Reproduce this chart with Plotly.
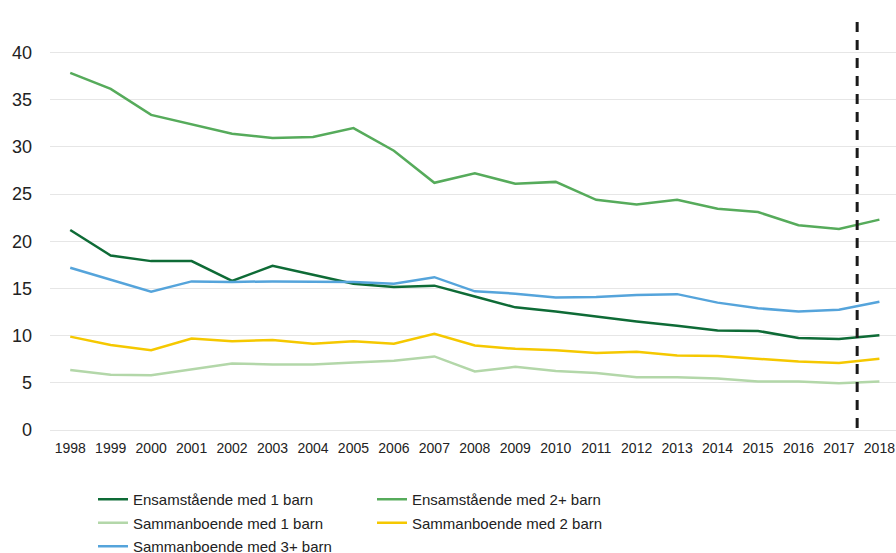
import plotly.graph_objects as go

# --- data -----------------------------------------------------------------
years = list(range(1998, 2019))

ensam_1 = [21.2, 18.5, 17.9, 17.9, 15.8, 17.4, 16.45, 15.5, 15.15, 15.3,
           14.15, 13.0, 12.55, 12.0, 11.5, 11.05, 10.55, 10.5, 9.75, 9.65, 10.05]
ensam_2plus = [37.85, 36.15, 33.4, 32.4, 31.4, 30.95, 31.05, 32.0, 29.6, 26.2,
               27.2, 26.1, 26.3, 24.4, 23.9, 24.4, 23.45, 23.1, 21.7, 21.3, 22.3]
samman_1 = [6.35, 5.85, 5.8, 6.45, 7.05, 6.95, 6.95, 7.15, 7.35, 7.8,
            6.2, 6.7, 6.25, 6.05, 5.6, 5.6, 5.45, 5.15, 5.15, 4.95, 5.15]
samman_2 = [9.9, 9.0, 8.45, 9.7, 9.4, 9.55, 9.15, 9.4, 9.15, 10.2,
            8.95, 8.6, 8.45, 8.15, 8.3, 7.9, 7.85, 7.55, 7.25, 7.1, 7.55]
samman_3plus = [17.2, 15.9, 14.65, 15.75, 15.7, 15.75, 15.75, 15.7, 15.5, 16.2,
                14.7, 14.45, 14.05, 14.1, 14.3, 14.4, 13.5, 12.9, 12.55, 12.75, 13.6]

series_names = [
    "Ensamstående med 1 barn",
    "Ensamstående med 2+ barn",
    "Sammanboende med 1 barn",
    "Sammanboende med 2 barn",
    "Sammanboende med 3+ barn",
]
series_values = [ensam_1, ensam_2plus, samman_1, samman_2, samman_3plus]
y_ticks = [0, 5, 10, 15, 20, 25, 30, 35, 40]

# vertical dashed split between 2017 and 2018
split_year = 2017.45

# --- style ----------------------------------------------------------------
colours = ["#0e6b36", "#56ab5b", "#b3d7a9", "#f5c800", "#55a4db"]
# legend column per series (two-column legend, filled row by row)
legend_ids = ["legend", "legend2", "legend", "legend2", "legend"]
FONT = "Liberation Sans, Arial, sans-serif"

fig = go.Figure()
for name, values, colour, leg in zip(series_names, series_values, colours, legend_ids):
    fig.add_trace(
        go.Scatter(
            x=years,
            y=values,
            mode="lines",
            name=name,
            line={"color": colour, "width": 2.5},
            legend=leg,
            legendgroup=name,  # one group per trace so tracegroupgap spaces rows
        )
    )

fig.add_shape(
    type="line",
    xref="x",
    yref="paper",
    x0=split_year,
    x1=split_year,
    y0=0.005,
    y1=0.995,
    line={"color": "#1a1a1a", "width": 3, "dash": "10px,8px"},
)

legend_common = {
    "orientation": "v",
    "xref": "container",
    "yref": "container",
    "xanchor": "left",
    "yanchor": "top",
    "y": 0.1266,
    "font": {"size": 15, "family": FONT, "color": "#222222"},
    "tracegroupgap": 1,
    "itemwidth": 30,
    "bgcolor": "rgba(0,0,0,0)",
}

fig.update_layout(
    width=896,
    height=553,
    margin={"l": 50, "r": 0, "t": 13, "b": 123, "autoexpand": False},
    paper_bgcolor="white",
    plot_bgcolor="white",
    font={"family": FONT, "color": "#222222"},
    showlegend=True,
    legend={**legend_common, "x": 93 / 896},
    legend2={**legend_common, "x": 372 / 896},
    xaxis={
        "range": [1997.5, 2018.41],
        "tickmode": "array",
        "tickvals": years,
        "ticktext": [str(y) for y in years],
        "tickfont": {"size": 14, "family": FONT, "color": "#222222"},
        "showgrid": False,
        "zeroline": False,
        "showline": False,
        "ticks": "",
        "automargin": False,
        "ticklabelstandoff": 8,
    },
    yaxis={
        "range": [0, 44.2],
        "tickmode": "array",
        "tickvals": y_ticks,
        "tickfont": {"size": 18, "family": FONT, "color": "#222222"},
        "showgrid": True,
        "gridcolor": "#e6e6e6",
        "gridwidth": 1,
        "zeroline": True,
        "zerolinecolor": "#e6e6e6",
        "zerolinewidth": 1,
        "ticks": "",
        "automargin": False,
        "ticklabelstandoff": 17,
    },
)

# page body has an 8px default margin; drop it so the figure fills the window
fig.write_html(
    "out.html",
    config={"displayModeBar": False},
    post_script="document.body.style.margin='0';",
)
